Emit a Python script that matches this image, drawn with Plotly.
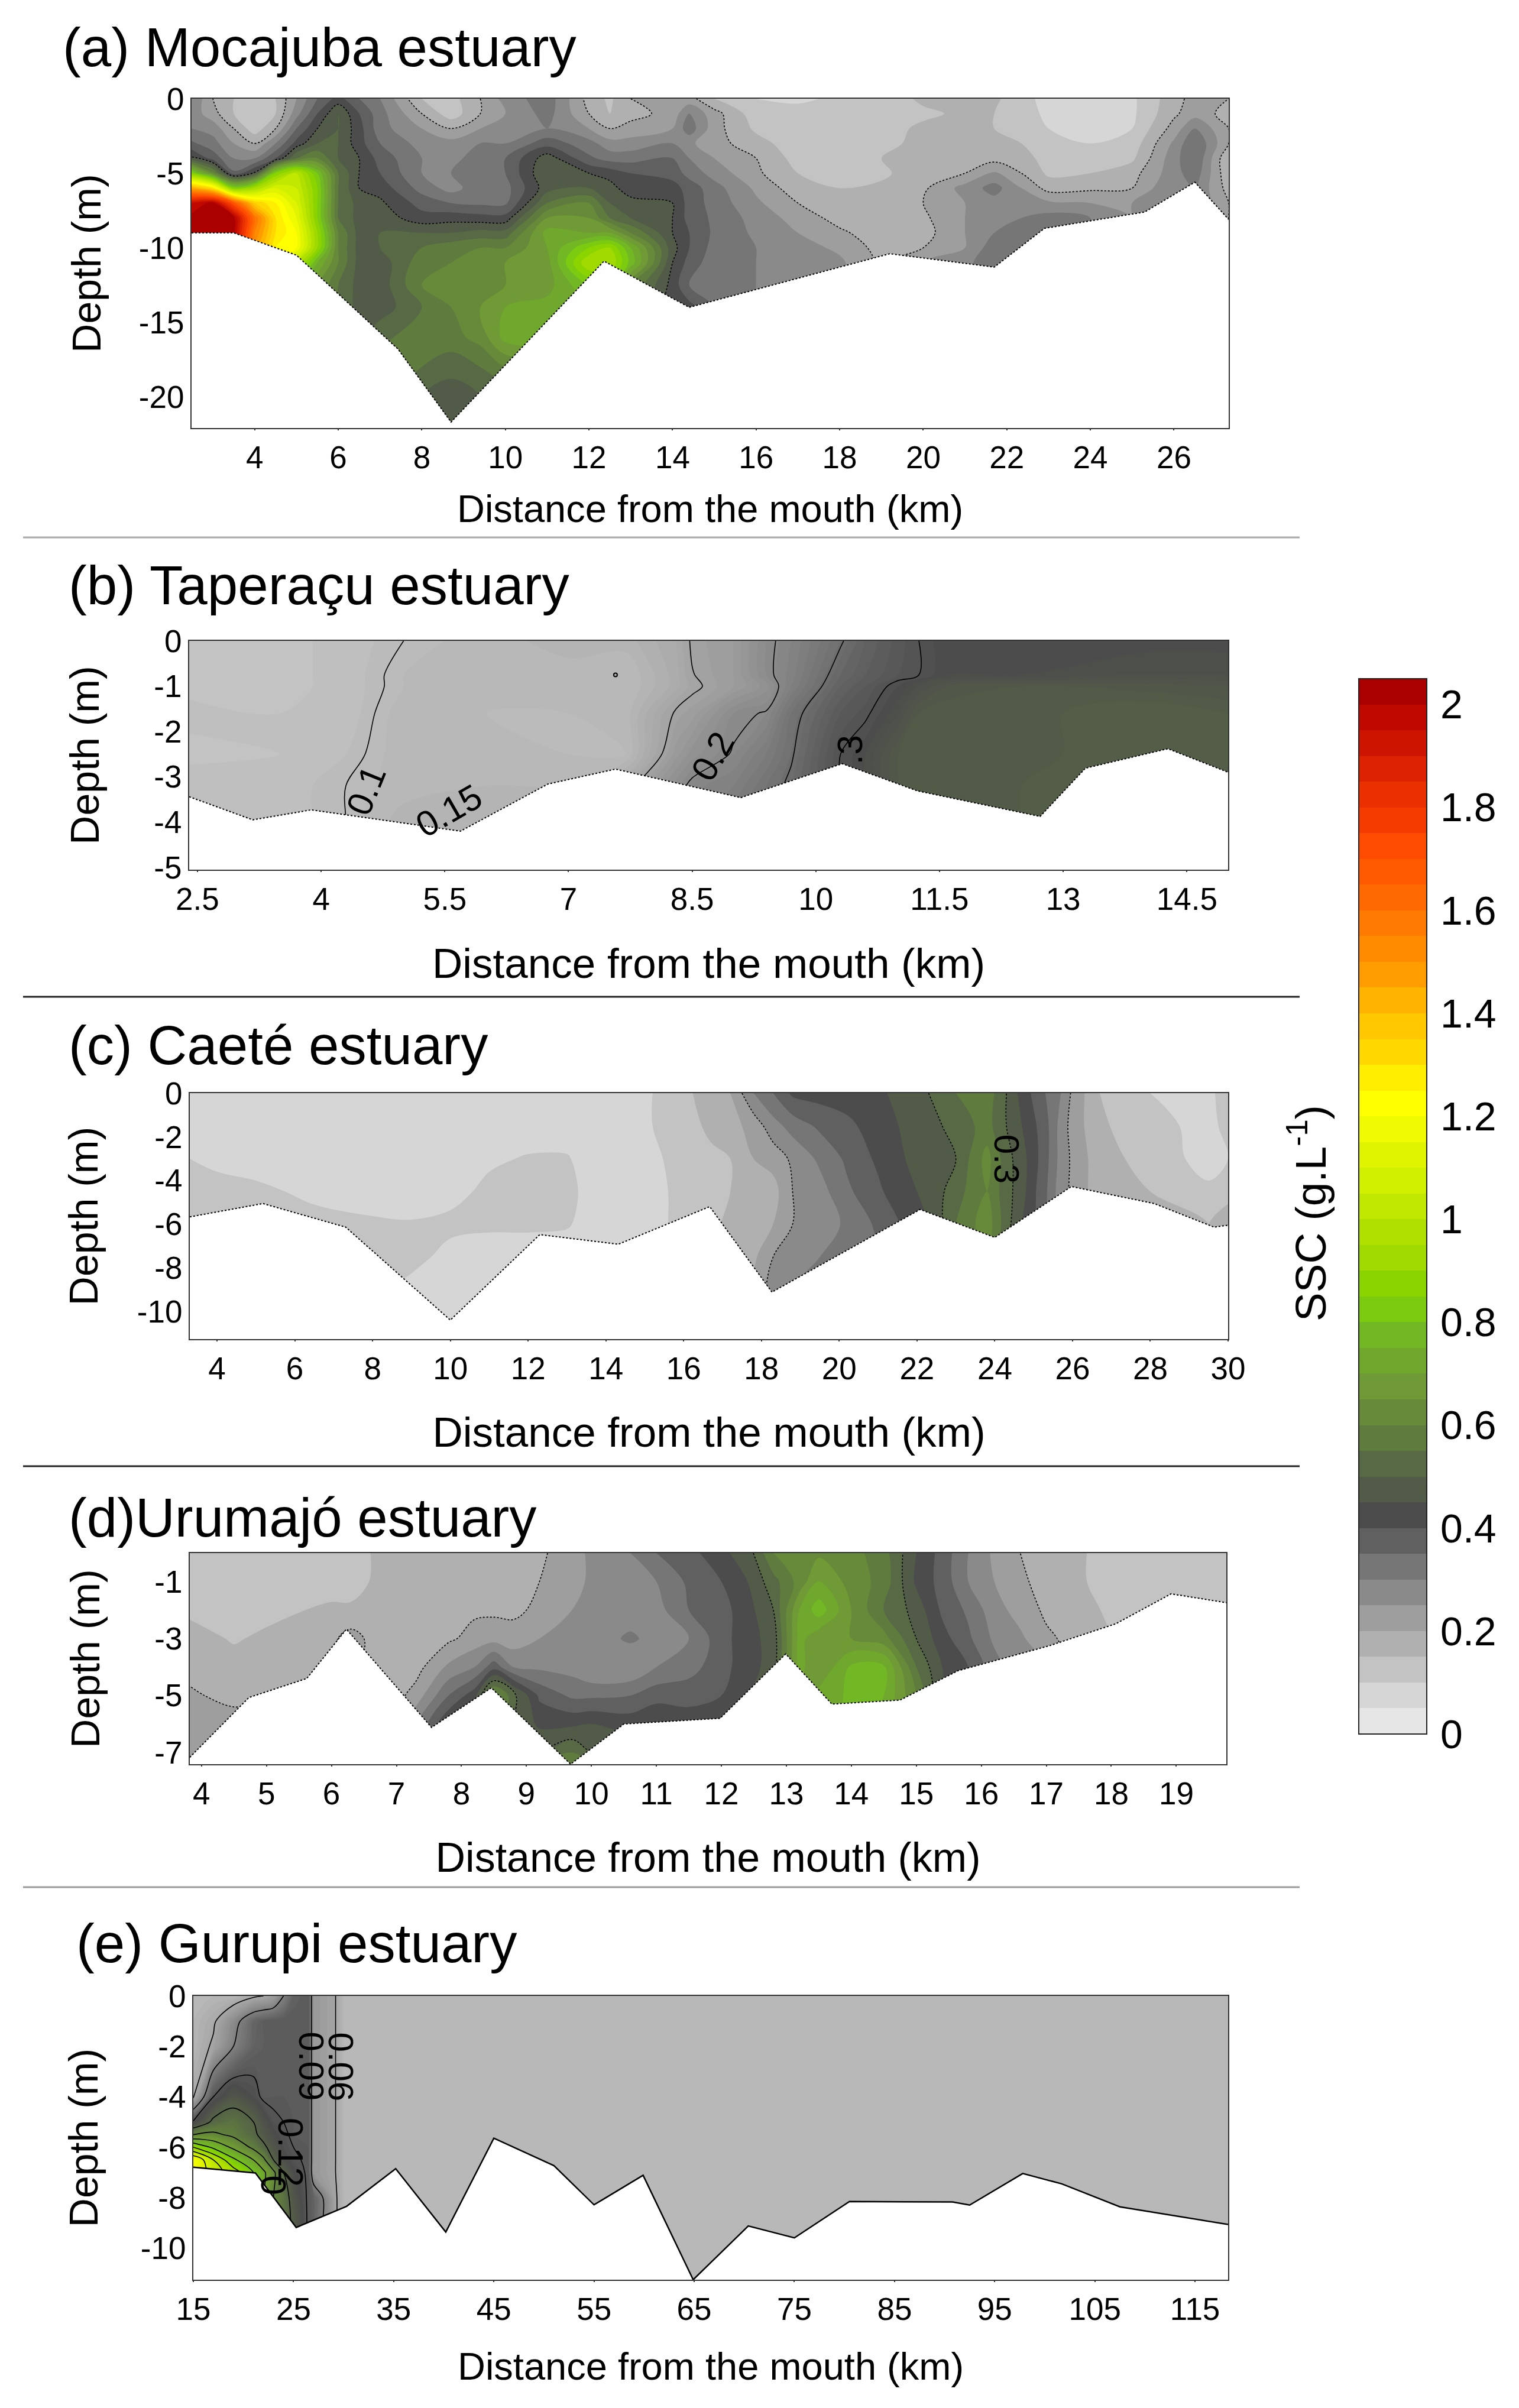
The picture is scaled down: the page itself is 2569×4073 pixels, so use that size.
import numpy as np
import plotly.graph_objects as go

W, H = 2569, 4073
FONT = "Liberation Sans"

# ---------- colour bands (0 to 2.05, every 0.05) ----------
band_colors = [
    "#E6E6E6", "#D6D6D6", "#C3C3C3", "#B0B0B0", "#9E9E9E", "#8A8A8A", "#767676", "#606060", "#4C4C4C",
    "#525A48", "#586A45", "#5F7B3E", "#668A3A", "#6F9A35", "#70A82E", "#72B825", "#7CCB10", "#8CD400",
    "#A0DA00", "#B0E000", "#C0E800", "#D0F000", "#E0F400", "#F0FA00", "#FFFF00", "#FFEE00", "#FFD800",
    "#FFC800", "#FFB400", "#FF9C00", "#FF8C00", "#FF7A00", "#FF6A00", "#FF5A00", "#FF4C00", "#F53C00",
    "#EB3000", "#DC2200", "#CC1400", "#BE0800", "#AA0000",
]
bar_ticks = [0, 0.2, 0.4, 0.6, 0.8, 1, 1.2, 1.4, 1.6, 1.8, 2]
bar_labels = ["0", "0.2", "0.4", "0.6", "0.8", "1", "1.2", "1.4", "1.6", "1.8", "2"]

# ---------- (a) Mocajuba ----------
depth_a = [0, -1, -2, -3, -4, -5, -6, -7, -8, -9, -10, -11, -12.5, -14, -16, -18, -20, -22.1]
dist_a = [2.49, 3, 3.5, 4, 4.5, 5, 5.5, 6, 6.5, 7, 8, 8.7, 9.4, 10, 11, 12, 12.5, 13, 14, 14.4, 15, 16, 17, 18, 19,
          20, 21, 21.7, 23, 24, 25, 26, 26.5, 27.31]
ssc_a = [
    [.30, .28, .30, .36, .46, .85, 1.45, 1.95, 2.02, 2.02, 2.02],
    [.20, .22, .28, .32, .38, .62, 1.3, 2.02, 2.02, 2.02, 2.02],
    [.15, .15, .20, .25, .30, .36, .85, 1.7, 2.02, 2.02, 2.02],
    [.12, .10, .12, .20, .30, .46, .95, 1.35, 1.6, 1.55, 1.5],
    [.15, .15, .20, .30, .40, .85, 1.1, 1.25, 1.3, 1.3, 1.25, 1.2],
    [.25, .28, .35, .42, .55, 1.0, 1.05, 1.1, 1.15, 1.2, 1.2, 1.0, .8],
    [.35, .40, .45, .50, .60, .80, .85, .85, .85, .90, .90, .75, .65, .6],
    [.42, .50, .50, .50, .50, .55, .55, .55, .55, .60, .60, .60, .55, .55],
    [.35, .40, .42, .42, .45, .45, .45, .48, .48, .48, .48, .48, .48, .48, .5],
    [.30, .32, .32, .35, .38, .40, .43, .46, .48, .50, .50, .47, .47, .47, .54, .58],
    [.15, .20, .25, .28, .30, .30, .33, .38, .42, .50, .55, .58, .60, .55, .57, .55, .5],
    [.13, .12, .20, .27, .28, .30, .28, .35, .43, .50, .58, .60, .62, .60, .58, .52, .47, .46],
    [.20, .20, .25, .30, .33, .33, .33, .34, .42, .52, .60, .64, .65, .65, .62, .55, .5, .5],
    [.27, .25, .27, .30, .35, .35, .33, .34, .42, .52, .60, .65, .65, .70, .72, .6, .5, .47],
    [.33, .32, .30, .38, .48, .50, .48, .55, .65, .72, .70, .68, .68, .72, .75, .6, .5],
    [.18, .20, .25, .32, .36, .45, .50, .60, .65, .70, .85, .95, .80, .75, .7, .6],
    [.14, .15, .20, .27, .33, .43, .47, .50, .55, .70, .90, .95, .80, .7],
    [.20, .18, .22, .27, .33, .40, .42, .47, .50, .60, .75, .78, .60, .55],
    [.25, .22, .25, .30, .35, .38, .42, .45, .45, .45, .47, .45, .43, .42],
    [.22, .30, .33, .26, .30, .33, .38, .38, .38, .40, .40, .38, .35, .42],
    [.15, .22, .22, .22, .25, .28, .32, .33, .34, .34, .33, .32, .32, .35],
    [.10, .12, .14, .17, .20, .21, .24, .26, .28, .29, .30, .30, .30],
    [.09, .12, .12, .12, .13, .15, .17, .20, .23, .25, .27, .28, .28],
    [.11, .12, .12, .12, .12, .12, .15, .16, .18, .21, .24, .26, .27],
    [.12, .13, .13, .14, .15, .14, .16, .16, .16, .17, .18, .19, .2],
    [.16, .14, .16, .16, .16, .18, .19, .20, .19, .18, .20, .25],
    [.16, .16, .16, .16, .17, .20, .27, .25, .25, .25, .25, .28],
    [.16, .15, .15, .17, .18, .26, .32, .28, .28, .30, .33, .35],
    [.08, .09, .10, .13, .14, .14, .18, .26, .32, .35],
    [.08, .08, .09, .10, .12, .15, .19, .25, .30],
    [.09, .09, .10, .12, .14, .18, .20, .25],
    [.18, .19, .22, .26, .28, .28, .30, .28],
    [.22, .23, .30, .35, .35, .33, .30],
    [.20, .18, .20, .20, .15, .16, .18, .2],
]
bed_x_a = [2.49, 3.5, 5, 7.43, 8.7, 12.36, 14.4, 19.2, 21.7, 22.9, 25.3, 26.5, 27.31]
bed_y_a = [-9, -9, -10.5, -16.8, -21.7, -10.9, -14, -10.4, -11.3, -8.7, -7.6, -5.6, -8.1]

# ---------- (b) Taperacu ----------
depth_b = [0, -.75, -1, -1.6, -2.5, -3.2, -4, -5.05]
dist_b = [2.4, 3.5, 4.3, 5, 6, 7, 7.7, 8.3, 8.5, 9, 9.4, 9.7, 10.3, 10.6, 11, 11.25, 11.6, 12.5, 14, 15]
ssc_b = [
    [.12, .12, .125, .135, .125, .14, .14, .14],
    [.125, .125, .125, .13, .13, .135, .135, .135],
    [.135, .135, .135, .135, .14, .145, .145, .145],
    [.145, .15, .15, .155, .155, .155, .165, .165],
    [.155, .155, .155, .15, .155, .16, .165, .165],
    [.165, .155, .155, .15, .15, .16, .165, .165],
    [.165, .15, .15, .155, .15, .195, .205, .215],
    [.19, .185, .185, .215, .235, .265, .285, .295],
    [.215, .21, .205, .225, .255, .285, .295, .305],
    [.23, .23, .23, .27, .28, .30, .32, .33],
    [.27, .27, .255, .28, .31, .33, .34, .35],
    [.29, .295, .30, .33, .34, .35, .36, .37],
    [.34, .36, .37, .39, .41, .41, .42, .42],
    [.37, .38, .39, .405, .43, .43, .43, .43],
    [.395, .40, .42, .44, .47, .47, .47, .47],
    [.41, .41, .44, .47, .48, .48, .48, .48],
    [.43, .43, .46, .48, .48, .48, .48, .48],
    [.425, .43, .47, .475, .475, .48, .48, .48],
    [.425, .44, .465, .49, .49, .49, .49, .49],
    [.425, .44, .46, .48, .49, .49, .49, .49],
]
bed_x_b = [2.4, 3.17, 3.88, 5.69, 6.75, 7.57, 9.09, 10.32, 11.23, 12.72, 13.27, 14.27, 15]
bed_y_b = [-3.44, -3.95, -3.73, -4.2, -3.16, -2.83, -3.46, -2.71, -3.31, -3.875, -2.81, -2.38, -2.9]
spot_x_b = [7.57]
spot_y_b = [-0.75]

# ---------- (c) Caete ----------
depth_c = [0, -1.5, -3, -4.5, -6, -7.5, -9, -11.25]
dist_c = [3.3, 4, 5, 6.5, 8, 9, 10, 11, 12, 13, 13.5, 14.5, 15, 15.2, 16, 16.7, 17.2, 17.8, 18.3, 18.8, 19.5, 20.2,
          21, 21.7, 22.3, 23, 23.8, 24.3, 24.7, 25, 25.3, 25.7, 26, 26.7, 28, 29.5, 30]
ssc_c = [
    [.09, .09, .10, .13, .15, .15, .15, .15],
    [.08, .08, .09, .115, .15, .15, .15, .15],
    [.07, .07, .08, .11, .15, .14, .14, .14],
    [.07, .07, .07, .09, .115, .115, .115, .115],
    [.07, .07, .07, .07, .11, .12, .12, .12],
    [.07, .07, .07, .07, .105, .12, .08, .08],
    [.07, .07, .07, .08, .115, .08, .07, .07],
    [.07, .07, .09, .115, .11, .07, .07, .07],
    [.07, .07, .105, .125, .11, .07, .07, .07],
    [.07, .07, .105, .12, .105, .07, .07, .07],
    [.07, .07, .08, .085, .085, .07, .07, .07],
    [.07, .07, .07, .07, .07, .07, .07, .07],
    [.09, .09, .08, .08, .09, .09, .09, .09],
    [.10, .10, .09, .09, .09, .09, .09, .09],
    [.14, .13, .12, .11, .11, .11, .11, .11],
    [.17, .16, .14, .14, .14, .15, .15, .15],
    [.20, .18, .15, .15, .16, .20, .20, .20],
    [.30, .22, .20, .16, .17, .19, .20, .20],
    [.35, .28, .22, .18, .20, .25, .28, .28],
    [.41, .32, .26, .25, .25, .27, .30, .30],
    [.42, .36, .31, .28, .27, .30, .32, .32],
    [.42, .39, .36, .34, .31, .32, .33, .33],
    [.44, .42, .41, .39, .36, .35, .35, .35],
    [.47, .46, .45, .44, .41, .40, .40, .40],
    [.50, .48, .47, .46, .45, .44, .44, .44],
    [.55, .52, .50, .53, .55, .55, .55, .55],
    [.58, .57, .62, .60, .63, .60, .60, .60],
    [.50, .50, .52, .52, .52, .50, .50, .50],
    [.43, .45, .47, .47, .45, .44, .44, .44],
    [.39, .41, .42, .41, .41, .41, .41, .41],
    [.35, .37, .37, .36, .36, .36, .36, .36],
    [.30, .28, .28, .27, .27, .27, .27, .27],
    [.24, .23, .24, .24, .24, .24, .24, .24],
    [.15, .16, .17, .17, .18, .18, .18, .18],
    [.10, .11, .13, .15, .16, .16, .16, .16],
    [.09, .09, .08, .11, .15, .15, .15, .15],
    [.12, .11, .10, .12, .20, .20, .20, .20],
]
bed_x_c = [3.3, 5.18, 7.31, 10, 12.3, 14.32, 16.67, 18.27, 22.08, 24, 25.97, 28.1, 29.64, 30]
bed_y_c = [-5.66, -5.05, -6.13, -10.38, -6.47, -6.91, -5.19, -9.1, -5.32, -6.6, -4.27, -5.05, -6.13, -6.04]

# ---------- (d) Urumajo ----------
depth_d = [0, -1, -2, -3, -4, -5, -6, -7, -7.41]
dist_d = [3.82, 4.5, 5, 6, 6.3, 6.8, 7.3, 7.8, 8.2, 8.5, 8.8, 9.2, 9.7, 10, 10.6, 11, 11.5, 12, 12.4, 12.8, 13.2,
          13.5, 14, 14.5, 15, 15.4, 15.8, 16.2, 16.6, 17, 17.5, 18, 19, 19.77]
ssc_d = [
    [.12, .12, .14, .17, .18, .21, .23, .24, .24],
    [.12, .12, .12, .145, .17, .18, .23, .24, .24],
    [.12, .12, .135, .16, .17, .19, .23, .24, .24],
    [.12, .125, .16, .19, .19, .19, .19, .19, .19],
    [.12, .125, .16, .22, .22, .22, .22, .22, .22],
    [.17, .17, .17, .17, .16, .16, .16, .16, .16],
    [.17, .18, .18, .18, .18, .22, .30, .35, .35],
    [.18, .18, .18, .19, .26, .35, .45, .45, .45],
    [.18, .18, .19, .22, .30, .43, .50, .50, .50],
    [.18, .18, .19, .23, .38, .63, .60, .60, .60],
    [.18, .18, .19, .22, .30, .52, .50, .50, .50],
    [.19, .20, .21, .25, .29, .39, .44, .50, .55],
    [.23, .23, .25, .27, .28, .34, .44, .55, .60],
    [.26, .26, .27, .27, .25, .34, .45, .50, .55],
    [.30, .27, .27, .31, .25, .35, .43, .50, .50],
    [.35, .30, .28, .28, .30, .38, .45, .50, .50],
    [.38, .36, .35, .30, .33, .38, .43, .50, .50],
    [.44, .40, .38, .38, .38, .40, .45, .50, .50],
    [.47, .45, .43, .43, .43, .45, .45, .50, .50],
    [.60, .53, .50, .47, .47, .48, .50, .50, .50],
    [.64, .62, .70, .72, .72, .68, .68, .68, .68],
    [.64, .70, .78, .66, .65, .72, .72, .72, .72],
    [.62, .63, .65, .65, .76, .76, .76, .76, .76],
    [.57, .58, .55, .62, .76, .75, .74, .74, .74],
    [.45, .44, .48, .50, .55, .60, .60, .60, .60],
    [.38, .38, .39, .42, .45, .45, .45, .45, .45],
    [.30, .30, .34, .36, .40, .40, .40, .40, .40],
    [.24, .25, .27, .29, .32, .32, .32, .32, .32],
    [.20, .21, .23, .26, .26, .26, .26, .26, .26],
    [.18, .18, .19, .21, .25, .25, .25, .25, .25],
    [.16, .16, .17, .18, .18, .18, .18, .18, .18],
    [.12, .12, .14, .15, .15, .15, .15, .15, .15],
    [.12, .12, .14, .15, .15, .15, .15, .15, .15],
    [.13, .14, .15, .15, .15, .15, .15, .15, .15],
]
bed_x_d = [3.82, 4.73, 5.62, 6.23, 7.54, 8.46, 9.68, 10.5, 11.98, 12.99, 13.7, 14.75, 15.64, 17.05, 18.07, 18.92, 19.77]
bed_y_d = [-7.17, -5.07, -4.4, -2.67, -6.12, -4.73, -7.41, -6, -5.8, -3.54, -5.3, -5.16, -4.13, -3.25, -2.48, -1.43, -1.74]

# ---------- (e) Gurupi ----------
depth_e = [0, -1, -2, -4, -5, -5.5, -6, -6.5, -7, -8, -9, -11.25]
dist_e = [15, 17, 19, 21, 22, 23, 24, 25, 26.5, 27, 29, 30, 118.3]
ssc_e = [
    [.16, .16, .16, .19, .41, .60, .90, 1.2, 1.2, 1.2, 1.2, 1.2],
    [.16, .19, .21, .40, .52, .62, .78, 1.0, 1.05, 1.05, 1.05, 1.05],
    [.16, .27, .30, .46, .55, .58, .68, .82, .95, .95, .95, .95],
    [.19, .36, .37, .42, .50, .52, .58, .70, .80, .85, .85, .85],
    [.20, .38, .38, .39, .45, .47, .52, .62, .72, .70, .70, .70],
    [.22, .39, .39, .39, .41, .43, .46, .50, .62, .60, .60, .60],
    [.30, .39, .39, .39, .40, .41, .42, .44, .50, .55, .55, .55],
    [.37, .39, .39, .39, .39, .39, .40, .41, .43, .46, .48, .48],
    [.39, .39, .39, .39, .39, .39, .39, .39, .39, .39, .39, .39],
    [.24, .24, .24, .24, .24, .24, .24, .24, .24, .37, .37, .37],
    [.21, .21, .21, .21, .21, .21, .21, .21, .21, .22, .22, .22],
    [.16, .16, .16, .16, .16, .16, .16, .16, .16, .16, .16, .16],
    [.16, .16, .16, .16, .16, .16, .16, .16, .16, .16, .16, .16],
]
bed_x_e = [15, 21.2, 25.27, 30.3, 35.2, 40.2, 45, 51, 55, 59.9, 64.9, 70.4, 75, 80.5, 90.8, 92.5, 97.8, 101.7, 107.5, 118.3]
bed_y_e = [-6.79, -7.02, -9.18, -8.34, -6.85, -9.36, -5.64, -6.73, -8.28, -7.11, -11.25, -9.12, -9.59, -8.15, -8.17,
           -8.29, -7.04, -7.45, -8.36, -9.06]

# ---------- axis ticks ----------
xticks_a = list(range(4, 27, 2))
yticks_a = [0, -5, -10, -15, -20]
xticks_b = [2.5, 4, 5.5, 7, 8.5, 10, 11.5, 13, 14.5]
yticks_b = [0, -1, -2, -3, -4, -5]
xticks_c = list(range(4, 31, 2))
yticks_c = [0, -2, -4, -6, -8, -10]
xticks_d = list(range(4, 20))
yticks_d = [-1, -3, -5, -7]
xticks_e = list(range(15, 116, 10))
yticks_e = [0, -2, -4, -6, -8, -10]


def grid(columns, n):
    # values below the sea bed sit under the white mask
    return np.array([c + [c[-1]] * (n - len(c)) for c in columns], dtype=float).T


def colorscale(cs, end):
    lo, hi = -cs / 2, end + cs / 2
    out = [[0, band_colors[0]]]
    for i, c in enumerate(band_colors):
        out.append([min(1, (i * .05 + .025 - lo) / (hi - lo)), c])
    out[-1][0] = 1
    return out


stepped = []
for i, c in enumerate(band_colors):
    stepped += [[i / 41, c], [(i + 1) / 41, c]]

panels = [
    dict(name="a", x=dist_a, y=depth_a, z=grid(ssc_a, len(depth_a)), bx=bed_x_a, by=bed_y_a, xt=xticks_a, yt=yticks_a,
         px=(324, 2078), py=(167, 724), xr=(2.49, 27.31), yr=(-22.1, 0), cs=.05, end=2.0,
         lv=(.2, .45, .25), dash="dot", xs=36, ys=42, xsize=65,
         title="(a) Mocajuba estuary", tx=104, ty=80),
    dict(name="b", x=dist_b, y=depth_b, z=grid(ssc_b, len(depth_b)), bx=bed_x_b, by=bed_y_b, xt=xticks_b, yt=yticks_b,
         px=(320, 2077), py=(1084, 1471), xr=(2.4, 15), yr=(-5.05, 0), cs=.01, end=2.04,
         lv=(.145, .411, .06625), dash="solid", xs=56, ys=70, xsize=71,
         title="(b) Taperaçu estuary", tx=114, ty=990),
    dict(name="c", x=dist_c, y=depth_c, z=grid(ssc_c, len(depth_c)), bx=bed_x_c, by=bed_y_c, xt=xticks_c, yt=yticks_c,
         px=(321, 2077), py=(1849, 2265), xr=(3.3, 30), yr=(-11.25, 0), cs=.05, end=2.0,
         lv=(.25, .5, .25), dash="dot", xs=55, ys=44, xsize=71,
         title="(c) Caeté estuary", tx=114, ty=1768),
    dict(name="d", x=dist_d, y=depth_d, z=grid(ssc_d, len(depth_d)), bx=bed_x_d, by=bed_y_d, xt=xticks_d, yt=yticks_d,
         px=(321, 2074), py=(2627, 2984), xr=(3.82, 19.77), yr=(-7.41, 0), cs=.05, end=2.0,
         lv=(.2, .5, .3), dash="dot", xs=55, ys=70, xsize=70,
         title="(d)Urumajó estuary", tx=114, ty=2567),
    dict(name="e", x=dist_e, y=depth_e, z=grid(ssc_e, len(depth_e)), bx=bed_x_e, by=bed_y_e, xt=xticks_e, yt=yticks_e,
         px=(327, 2077), py=(3376, 3856), xr=(15, 118.3), yr=(-11.25, 0), cs=.01, end=2.04,
         lv=(.2, 1.1, .1), dash="solid", xs=46, ys=50, xsize=65,
         title="(e) Gurupi estuary", tx=127, ty=3287),
]

# contour labels: panel, km, depth, text, angle
contour_labels = [
    ("b", 4.55, -3.3, "0.1", -68), ("b", 5.55, -3.75, "0.15", -30), ("b", 8.75, -2.55, "0.2", -60),
    ("b", 10.42, -2.4, ".3", -90),
    ("c", 24.3, -3.0, "0.3", 90),
    ("e", 26.8, -2.8, "0.09", 90), ("e", 29.7, -2.8, "0.06", 90), ("e", 24.7, -6.2, "0.12", 90),
    ("e", 23, -7.5, "0", 90),
]

fig = go.Figure()
layout = {}
annotations = []
shapes = []

for k, p in enumerate(panels):
    n = "" if k == 0 else str(k + 1)
    xa, ya = "x" + n, "y" + n
    tick_font = dict(family=FONT, size=53, color="black")
    layout["xaxis" + n] = dict(
        domain=[p["px"][0] / W, p["px"][1] / W], range=list(p["xr"]), anchor=ya, tickmode="array", automargin=False,
        tickvals=p["xt"], ticktext=[str(v) for v in p["xt"]], ticks="outside", ticklen=2, tickwidth=2,
        tickcolor="#333", tickfont=tick_font, showgrid=False, zeroline=False, showline=True, linecolor="#333",
        linewidth=2, mirror=True,
        title=dict(text="Distance from the mouth (km)", font=dict(family=FONT, size=p["xsize"], color="black"),
                   standoff=p["xs"]),
    )
    layout["yaxis" + n] = dict(
        domain=[1 - p["py"][1] / H, 1 - p["py"][0] / H], range=list(p["yr"]), anchor=xa, tickmode="array",
        automargin=False, tickvals=p["yt"], ticktext=[str(v) for v in p["yt"]], ticks="", tickfont=tick_font,
        showgrid=False, zeroline=False, showline=True, linecolor="#333", linewidth=2, mirror=True,
        title=dict(text="Depth (m)", font=dict(family=FONT, size=68, color="black"), standoff=p["ys"]),
    )
    if k == 0:
        # the colour bar scale comes from this trace; it sits under the contour fill
        fig.add_trace(go.Heatmap(
            x=p["x"], y=p["y"], z=p["z"], zmin=0, zmax=2.05, colorscale=stepped, hoverinfo="skip", xaxis=xa, yaxis=ya,
            colorbar=dict(
                x=2298 / W, xanchor="left", xpad=0, y=1 - 2933 / H, yanchor="bottom", ypad=0, lenmode="pixels",
                len=2933 - 1148, thicknessmode="pixels", thickness=115, outlinewidth=2, outlinecolor="#222",
                tickmode="array", tickvals=bar_ticks, ticktext=bar_labels, ticks="outside", ticklen=9,
                tickcolor="rgba(0,0,0,0)", tickfont=dict(family=FONT, size=68, color="black"),
            ),
        ))
    fig.add_trace(go.Contour(
        x=p["x"], y=p["y"], z=p["z"], autocontour=False, showscale=False, xaxis=xa, yaxis=ya,
        contours=dict(start=0, end=p["end"], size=p["cs"], coloring="fill", showlines=False),
        colorscale=colorscale(p["cs"], p["end"]), line=dict(width=0, smoothing=1), hoverinfo="skip",
    ))
    fig.add_trace(go.Contour(
        x=p["x"], y=p["y"], z=p["z"], autocontour=False, showscale=False, xaxis=xa, yaxis=ya,
        contours=dict(start=p["lv"][0], end=p["lv"][1], size=p["lv"][2], coloring="none", showlines=True),
        line=dict(color="black", width=1.6, dash=p["dash"], smoothing=1), hoverinfo="skip",
    ))
    bottom = p["yr"][0]
    fig.add_trace(go.Scatter(
        x=p["bx"] + [p["xr"][1], p["xr"][0]], y=p["by"] + [bottom, bottom], xaxis=xa, yaxis=ya, mode="lines",
        fill="toself", fillcolor="white", line=dict(width=0), hoverinfo="skip", showlegend=False,
    ))
    fig.add_trace(go.Scatter(
        x=p["bx"], y=p["by"], xaxis=xa, yaxis=ya, mode="lines",
        line=dict(color="black", width=2.5 if p["name"] == "e" else 2,
                  dash="solid" if p["name"] == "e" else "dot"), hoverinfo="skip", showlegend=False,
    ))
    if p["name"] == "b":
        fig.add_trace(go.Scatter(
            x=spot_x_b, y=spot_y_b, xaxis=xa, yaxis=ya, mode="markers", hoverinfo="skip", showlegend=False,
            marker=dict(symbol="circle-open", size=6, color="black", line=dict(width=2)),
        ))
    annotations.append(dict(
        text=p["title"], x=p["tx"] / W, y=1 - p["ty"] / H, xref="paper", yref="paper", xanchor="left", yanchor="middle",
        showarrow=False, font=dict(family=FONT, size=92.5, color="black"),
    ))
    for name, cx, cy, txt, ang in contour_labels:
        if name == p["name"]:
            annotations.append(dict(
                text=txt, x=cx, y=cy, xref=xa, yref=ya, textangle=ang, showarrow=False,
                font=dict(family=FONT, size=60, color="black"),
            ))

annotations.append(dict(
    text="SSC (g.L<sup>-1</sup>)", x=2259 / W, y=1 - 2052 / H, xref="paper", yref="paper", textangle=-90,
    showarrow=False, font=dict(family=FONT, size=73, color="black"),
))

# black lines between the colour bar bands
for i in range(1, 41):
    yp = 1 - (2933 - i / 41 * (2933 - 1148)) / H
    shapes.append(dict(type="line", xref="paper", yref="paper", x0=2298 / W, x1=2413 / W, y0=yp, y1=yp,
                       line=dict(color="#222", width=1.5)))

# rules between panels
for yy, col in [(909, "#AAAAAA"), (1686, "#222222"), (2480, "#222222"), (3192, "#999999")]:
    shapes.append(dict(type="line", xref="paper", yref="paper", x0=39 / W, x1=2198 / W, y0=1 - yy / H, y1=1 - yy / H,
                       line=dict(color=col, width=3)))

fig.update_layout(
    width=W, height=H, margin=dict(l=0, r=0, t=0, b=0, pad=0, autoexpand=False), paper_bgcolor="white",
    plot_bgcolor="white", showlegend=False, annotations=annotations, shapes=shapes,
    font=dict(family=FONT, color="black"), **layout,
)
fig.write_html("out.html", post_script="document.body.style.margin='0';", config=dict(displayModeBar=False))
